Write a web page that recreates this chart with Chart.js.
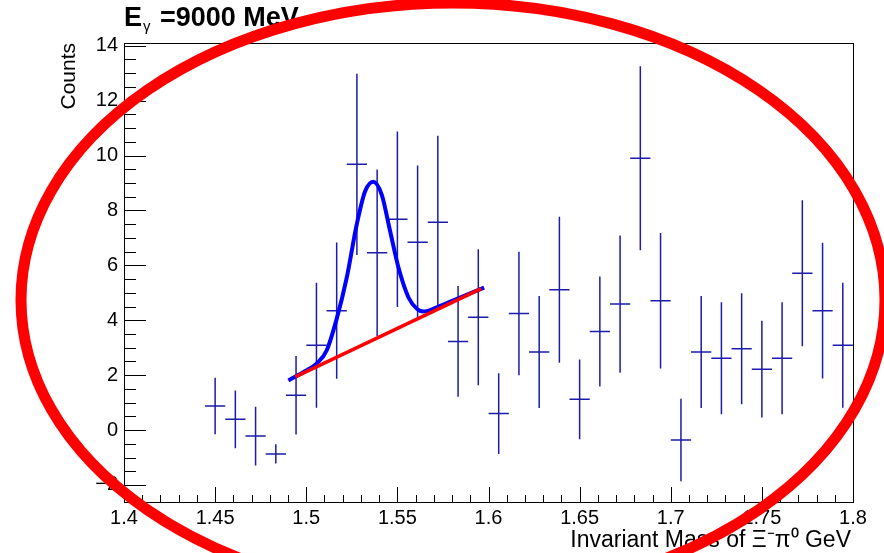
<!DOCTYPE html>
<html>
<head>
<meta charset="utf-8">
<script src="https://cdn.jsdelivr.net/npm/chart.js@4.4.1/dist/chart.umd.min.js"></script>
<style>
  html, body { margin: 0; padding: 0; background: #fff; }
  canvas { display: block; }
</style>
</head>
<body>
<canvas id="chart-mass" width="884" height="553"></canvas>
<script>
// histogram bins (centre of each 0.0111 GeV bin) with counts and errors
const massBins = [
  1.45, 1.4611, 1.4722, 1.4833, 1.4944, 1.5056, 1.5167, 1.5278, 1.5389, 1.55,
  1.5611, 1.5722, 1.5833, 1.5944, 1.6056, 1.6167, 1.6278, 1.6389, 1.65, 1.6611,
  1.6722, 1.6833, 1.6944, 1.7056, 1.7167, 1.7278, 1.7389, 1.75, 1.7611, 1.7722,
  1.7833, 1.7944
];
const counts = [
  0.88, 0.39, -0.22, -0.87, 1.27, 3.09, 4.35, 9.68, 6.46, 7.68,
  6.84, 7.57, 3.23, 4.11, 0.60, 4.25, 2.84, 5.11, 1.12, 3.59,
  4.59, 9.90, 4.71, -0.36, 2.84, 2.62, 2.96, 2.22, 2.62, 5.71,
  4.35, 3.09
];
const countErrors = [
  1.03, 1.05, 1.07, 0.35, 1.43, 2.28, 2.48, 3.30, 3.03, 3.20,
  2.80, 3.15, 2.02, 2.48, 1.47, 2.25, 2.04, 2.66, 1.45, 2.00,
  2.50, 3.35, 2.47, 1.50, 2.04, 2.04, 2.02, 1.76, 2.04, 2.66,
  2.47, 2.28
];
const binWidth = 0.4 / 36;

// gaussian + linear fit
const fitMass = [
  1.4902, 1.5003, 1.5057, 1.5112, 1.5167, 1.5222, 1.5277, 1.5323, 1.5368, 1.5414,
  1.546, 1.5506, 1.5561, 1.561, 1.5643, 1.5716, 1.5844, 1.5976
];
const fitCounts = [
  1.81, 2.18, 2.42, 2.90, 4.05, 5.55, 7.49, 8.70, 9.05, 8.58,
  7.25, 5.92, 4.83, 4.40, 4.32, 4.47, 4.83, 5.19
];

// linear background
const bgMass = [1.494, 1.596];
const bgCounts = [1.94, 5.15];

const xTickValues = [1.4, 1.45, 1.5, 1.55, 1.6, 1.65, 1.7, 1.75, 1.8];
const yTickValues = [-2, 0, 2, 4, 6, 8, 10, 12, 14];

const FONT = "'Liberation Sans', Arial, Helvetica, sans-serif";

const rootStyle = {
  id: 'rootStyle',
  beforeDatasetsDraw(chart) {
    const { ctx, scales: { x, y } } = chart;
    const area = chart.chartArea;
    ctx.save();
    ctx.beginPath();
    ctx.rect(area.left, area.top, area.right - area.left, area.bottom - area.top);
    ctx.clip();
    ctx.strokeStyle = '#1c1cab';
    ctx.lineWidth = 1.5;
    massBins.forEach((m, i) => {
      const px = x.getPixelForValue(m);
      const py = y.getPixelForValue(counts[i]);
      const x0 = x.getPixelForValue(m - binWidth / 2);
      const x1 = x.getPixelForValue(m + binWidth / 2);
      ctx.beginPath();
      ctx.moveTo(px, y.getPixelForValue(counts[i] - countErrors[i]));
      ctx.lineTo(px, y.getPixelForValue(counts[i] + countErrors[i]));
      ctx.moveTo(x0, py);
      ctx.lineTo(x1, py);
      ctx.stroke();
    });
    ctx.restore();
  },
  afterDraw(chart) {
    const { ctx, scales: { x, y } } = chart;
    const area = chart.chartArea;
    ctx.save();

    // frame
    ctx.strokeStyle = '#000';
    ctx.lineWidth = 1;
    ctx.strokeRect(Math.round(area.left) + 0.5, Math.round(area.top) + 0.5,
      Math.round(area.right - area.left), Math.round(area.bottom - area.top));

    // inward ticks
    ctx.beginPath();
    for (let v = 1.4; v <= 1.8001; v += 0.01) {
      const px = Math.round(x.getPixelForValue(v)) + 0.5;
      const major = Math.abs(v * 20 - Math.round(v * 20)) < 1e-6;
      ctx.moveTo(px, area.bottom);
      ctx.lineTo(px, area.bottom - (major ? 15 : 7));
    }
    for (let v = -2.5; v <= 14.0001; v += 0.5) {
      const py = Math.round(y.getPixelForValue(v)) + 0.5;
      const major = Math.abs(v / 2 - Math.round(v / 2)) < 1e-6;
      ctx.moveTo(area.left, py);
      ctx.lineTo(area.left + (major ? 22 : 12), py);
    }
    ctx.stroke();

    // title
    ctx.fillStyle = '#000';
    ctx.textBaseline = 'alphabetic';
    ctx.textAlign = 'left';
    ctx.font = `bold 27px ${FONT}`;
    ctx.fillText('E', 124, 26);
    ctx.font = `15px ${FONT}`;
    ctx.fillText('\u03b3', 143, 31);
    ctx.font = `bold 27px ${FONT}`;
    ctx.fillText('=9000 MeV', 160, 26);

    // axis titles
    ctx.font = `23px ${FONT}`;
    ctx.textAlign = 'right';
    ctx.fillText('Invariant Mass of \u039e\u207b\u03c0\u2070 GeV', 851, 547);
    ctx.save();
    ctx.translate(75, 43);
    ctx.rotate(-Math.PI / 2);
    ctx.font = `21px ${FONT}`;
    ctx.fillText('Counts', 0, 0);
    ctx.restore();

    // red ellipse annotation
    ctx.strokeStyle = '#ff0000';
    ctx.lineWidth = 11;
    ctx.beginPath();
    ctx.ellipse(453, 300, 432, 297, 0, 0, Math.PI * 2);
    ctx.stroke();

    ctx.restore();
  }
};

const ctx = document.getElementById('chart-mass');

new Chart(ctx, {
  type: 'scatter',
  data: {
    datasets: [
      {
        label: 'Background',
        data: bgMass.map((m, i) => ({ x: m, y: bgCounts[i] })),
        showLine: true,
        borderColor: '#ff0000',
        borderWidth: 3.5,
        pointRadius: 0
      },
      {
        label: 'Fit',
        data: fitMass.map((m, i) => ({ x: m, y: fitCounts[i] })),
        showLine: true,
        borderColor: '#0000ff',
        borderWidth: 4,
        pointRadius: 0,
        cubicInterpolationMode: 'monotone'
      },
      {
        label: 'Counts',
        data: massBins.map((m, i) => ({ x: m, y: counts[i] })),
        showLine: false,
        pointRadius: 0
      }
    ]
  },
  options: {
    responsive: false,
    animation: false,
    layout: { padding: { left: 0, top: 43, right: 31, bottom: 0 } },
    plugins: {
      legend: { display: false },
      tooltip: { enabled: false }
    },
    scales: {
      x: {
        type: 'linear',
        min: 1.4,
        max: 1.8,
        afterBuildTicks: (scale) => { scale.ticks = xTickValues.map((v) => ({ value: v })); },
        afterFit: (scale) => { scale.height = 51; },
        grid: { display: false, drawTicks: false },
        border: { display: false },
        ticks: {
          color: '#000',
          font: { family: FONT, size: 20 },
          padding: 4,
          maxRotation: 0,
          autoSkip: false,
          callback: (v) => String(+Number(v).toFixed(2))
        }
      },
      y: {
        type: 'linear',
        min: -2.62,
        max: 14.1,
        afterBuildTicks: (scale) => { scale.ticks = yTickValues.map((v) => ({ value: v })); },
        afterFit: (scale) => { scale.width = 124; },
        grid: { display: false, drawTicks: false },
        border: { display: false },
        ticks: {
          color: '#000',
          font: { family: FONT, size: 20 },
          padding: 6,
          autoSkip: false,
          callback: (v) => (v < 0 ? '\u2212' + Math.abs(v) : String(v))
        }
      }
    }
  },
  plugins: [rootStyle]
});
</script>
</body>
</html>
